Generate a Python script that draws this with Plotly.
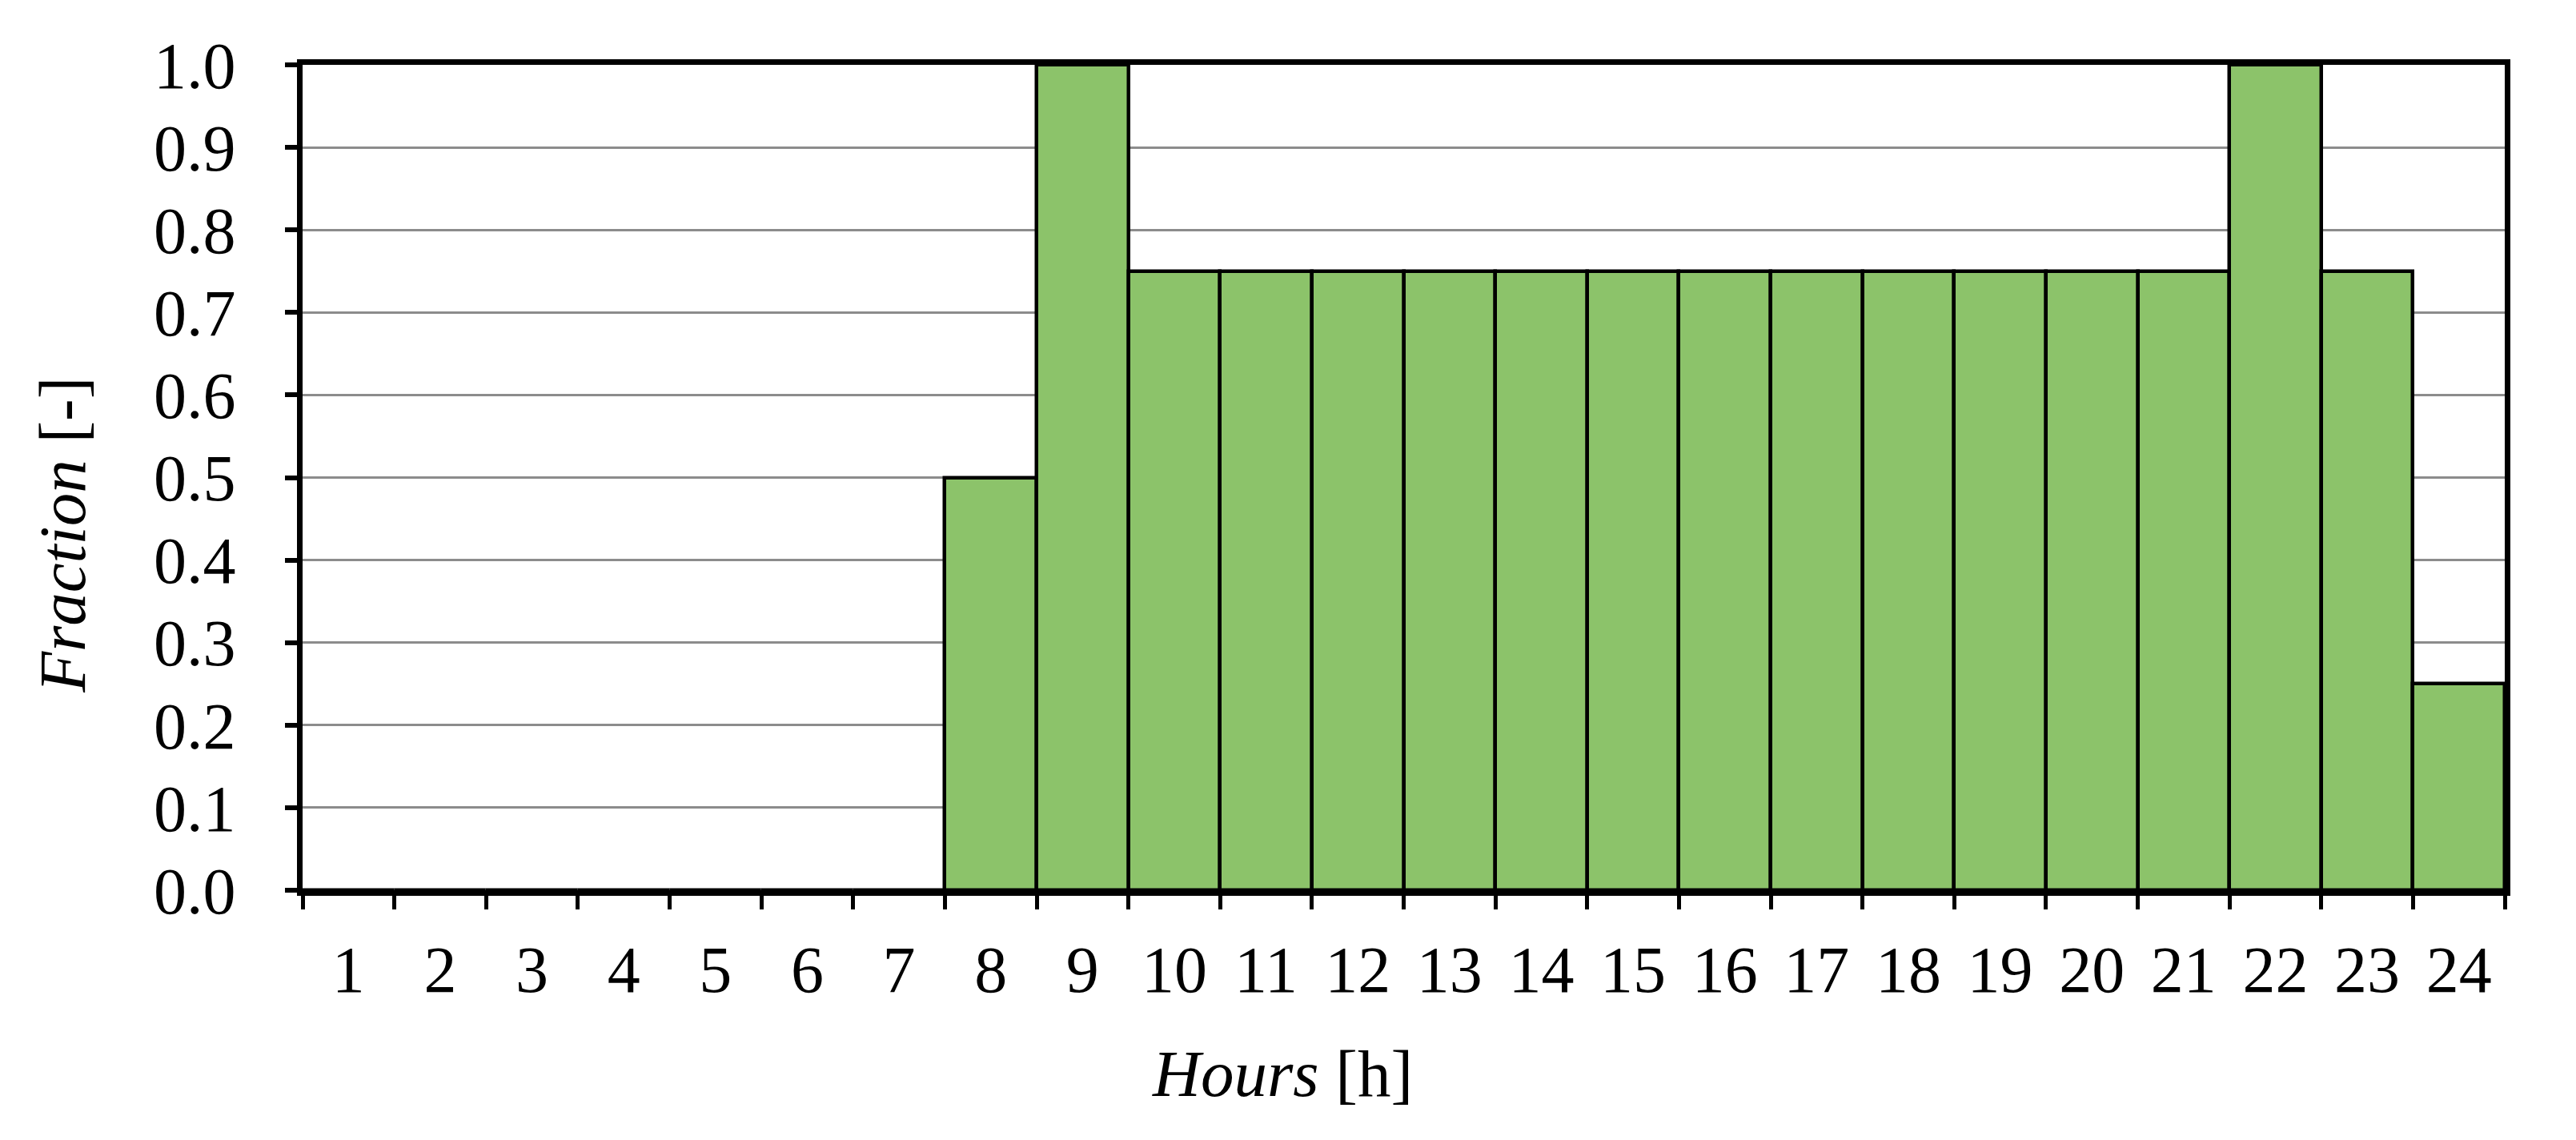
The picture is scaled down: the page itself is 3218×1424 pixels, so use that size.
import plotly.graph_objects as go

# hourly fraction profile
hours = [str(h) for h in range(1, 25)]
fraction = [0, 0, 0, 0, 0, 0, 0, 0.5, 1.0,
            0.75, 0.75, 0.75, 0.75, 0.75, 0.75, 0.75, 0.75, 0.75, 0.75, 0.75, 0.75,
            1.0, 0.75, 0.25]
y_ticks = [round(i * 0.1, 1) for i in range(11)]

FONT = "Liberation Serif, Times New Roman, serif"

fig = go.Figure()
fig.add_trace(go.Bar(x=hours, y=fraction,
                     marker=dict(color="#8CC36A", line=dict(color="black", width=4.5))))

fig.update_layout(
    width=3218, height=1424,
    margin=dict(l=370, r=97, t=73, b=320),
    paper_bgcolor="white", plot_bgcolor="white",
    bargap=0, showlegend=False,
    font=dict(family=FONT, size=82, color="black"),
)
fig.update_xaxes(
    type="category", tickson="boundaries", ticks="outside", ticklen=17, tickwidth=5,
    tickcolor="black", showline=True, linewidth=7, linecolor="black", mirror=True,
    showgrid=False, tickfont=dict(size=82), ticklabelstandoff=22,
)
fig.update_yaxes(
    range=[0, 1], tickvals=y_ticks, ticktext=[f"{v:.1f}" for v in y_ticks],
    ticks="outside", ticklen=15, tickwidth=6, tickcolor="black",
    showline=True, linewidth=7, linecolor="black", mirror=True,
    showgrid=True, gridcolor="#8c8c8c", gridwidth=3, zeroline=False,
    tickfont=dict(size=82), ticklabelstandoff=45,
)

# axis titles (the x title sits left of centre in the original)
fig.add_annotation(text="<i>Hours</i> [h]", xref="paper", yref="paper",
                   x=0.445, y=-0.222, showarrow=False, font=dict(size=83),
                   xanchor="center", yanchor="middle")
fig.add_annotation(text="<i>Fraction</i> [-]", xref="paper", yref="paper",
                   x=-0.109, y=0.43, showarrow=False, font=dict(size=83),
                   textangle=-90, xanchor="center", yanchor="middle")

fig.write_html("out.html")
